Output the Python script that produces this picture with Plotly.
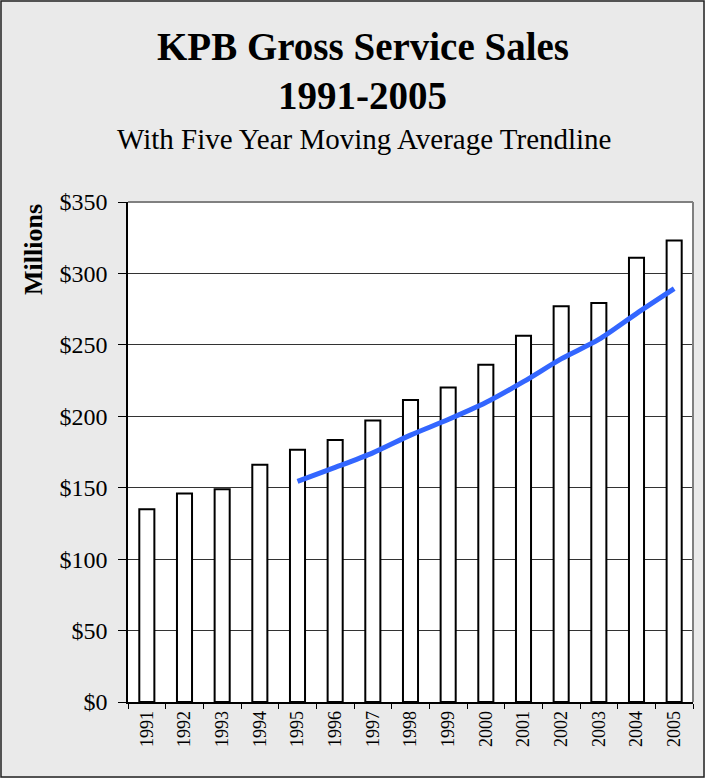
import plotly.graph_objects as go

years = ["1991", "1992", "1993", "1994", "1995", "1996", "1997", "1998",
         "1999", "2000", "2001", "2002", "2003", "2004", "2005"]
sales = [135, 146, 149, 166, 176.5, 183.4, 197, 211.4,
         220.2, 236, 256.4, 277, 279.3, 311, 323]
trend_years = ["1995", "1996", "1997", "1998", "1999", "2000",
               "2001", "2002", "2003", "2004", "2005"]
trend_vals = [154.5, 164.2, 174.4, 186.8, 197.7, 209.6,
              224.2, 240.2, 253.8, 271.9, 289.3]
y_ticks = [0, 50, 100, 150, 200, 250, 300, 350]
y_tick_labels = ["$0", "$50", "$100", "$150", "$200", "$250", "$300", "$350"]

SERIF = "Liberation Serif, Times New Roman, serif"

fig = go.Figure()
fig.add_trace(go.Bar(
    x=years, y=sales, width=0.4,
    marker=dict(color="white", line=dict(color="black", width=2)),
    showlegend=False, hoverinfo="x+y",
))
fig.add_trace(go.Scatter(
    x=trend_years, y=trend_vals, mode="lines",
    line=dict(color="#3366FF", width=5, shape="spline", smoothing=0.8),
    showlegend=False,
))

W, H = 705, 778
L, R, T, B = 128, 12, 202, 76
pw, ph = W - L - R, H - T - B

def px_x(p):
    return (p - L) / pw

def px_y(p):
    return (H - B - p) / ph

fig.update_layout(
    width=W, height=H,
    margin=dict(l=L, r=R, t=T, b=B),
    paper_bgcolor="#EAEAEA",
    plot_bgcolor="white",
    bargap=0.6,
    font=dict(family=SERIF, color="black"),
    xaxis=dict(
        type="category", tickangle=-90, tickfont=dict(size=18, family=SERIF),
        showline=True, linecolor="black", linewidth=1.5, mirror=False,
        ticks="outside", ticklen=5, tickcolor="black", tickson="boundaries",
        showgrid=False, range=[-0.5, 14.5],
    ),
    yaxis=dict(
        range=[0, 350], tickvals=y_ticks, ticktext=y_tick_labels,
        tickfont=dict(size=24, family=SERIF),
        showline=True, linecolor="black", linewidth=1.5,
        ticks="outside", ticklen=8, tickcolor="black",
        ticklabelstandoff=6,
        showgrid=True, gridcolor="#333333", gridwidth=1, zeroline=False,
    ),
    shapes=[
        dict(type="line", xref="paper", yref="paper", x0=0, x1=1, y0=1, y1=1,
             line=dict(color="#808080", width=2)),
        dict(type="line", xref="paper", yref="paper", x0=1, x1=1, y0=0, y1=1,
             line=dict(color="#808080", width=2)),
        dict(type="rect", xref="paper", yref="paper",
             x0=px_x(1), x1=px_x(W - 1), y0=px_y(H - 1), y1=px_y(1),
             line=dict(color="#222222", width=1.5), layer="below"),
    ],
    annotations=[
        dict(text="<b>KPB Gross Service Sales</b>", xref="paper", yref="paper",
             x=px_x(W / 2 + 10), y=px_y(47), xanchor="center", yanchor="middle",
             showarrow=False, font=dict(size=39, family=SERIF)),
        dict(text="<b>1991-2005</b>", xref="paper", yref="paper",
             x=px_x(W / 2 + 10), y=px_y(95), xanchor="center", yanchor="middle",
             showarrow=False, font=dict(size=39, family=SERIF)),
        dict(text="With Five Year Moving Average Trendline", xref="paper", yref="paper",
             x=px_x(W / 2 + 12), y=px_y(139), xanchor="center", yanchor="middle",
             showarrow=False, font=dict(size=29, family=SERIF)),
        dict(text="<b>Millions</b>", xref="paper", yref="paper",
             x=px_x(33), y=px_y(250), xanchor="center", yanchor="middle",
             textangle=-90, showarrow=False, font=dict(size=26, family=SERIF)),
    ],
)

fig.write_html("out.html", config={"displayModeBar": False},
               post_script="document.body.style.margin='0';")
